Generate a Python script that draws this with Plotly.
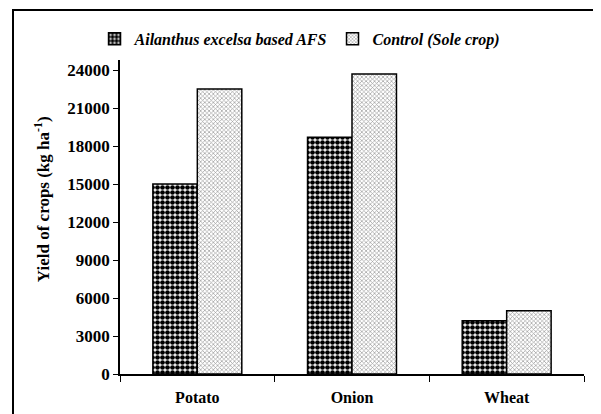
import plotly.graph_objects as go

categories = ["Potato", "Onion", "Wheat"]
afs_values = [15000, 18700, 4200]
control_values = [22500, 23700, 5000]
series_names = ["<i>Ailanthus excelsa based AFS</i>", "<i>Control (Sole crop)</i>"]
y_tickvals = [0, 3000, 6000, 9000, 12000, 15000, 18000, 21000, 24000]
y_ticktext = [str(v) for v in y_tickvals]
y_title = "Yield of crops (kg ha<sup>-1</sup>)"

fig = go.Figure()
fig.add_trace(go.Bar(
    x=categories, y=afs_values, name=series_names[0],
    marker=dict(color="white", line=dict(color="black", width=1.5),
                pattern=dict(shape=".", fgcolor="black", bgcolor="white", size=5, solidity=0.7)),
))
fig.add_trace(go.Bar(
    x=categories, y=control_values, name=series_names[1],
    marker=dict(color="white", line=dict(color="black", width=1.5),
                pattern=dict(shape="x", fgcolor="#9a9a9a", bgcolor="white", size=3, solidity=0.4)),
))

font_family = "Liberation Serif"
# page body adds an 8px offset: figure is sized to the remaining area
fig.update_layout(
    template="none",
    width=593, height=406,
    margin=dict(l=112, r=17, t=52, b=40, autoexpand=False),
    paper_bgcolor="white", plot_bgcolor="white",
    barmode="group", bargap=0.425, bargroupgap=0,
    font=dict(family=font_family, color="black", size=16),
    legend=dict(orientation="h", x=0.388, xanchor="center", y=1.067, yanchor="middle",
                font=dict(size=16, family=font_family, weight="bold"),
                bgcolor="rgba(0,0,0,0)", itemwidth=30, traceorder="normal"),
    showlegend=True,
)
fig.update_xaxes(
    automargin=False,
    showline=True, linecolor="black", linewidth=1.5, showgrid=False,
    ticks="outside", tickson="boundaries", ticklen=6, tickcolor="black",
    tickfont=dict(size=16, family=font_family, weight="bold"),
    ticklabelstandoff=8,
)
fig.update_yaxes(
    automargin=False,
    range=[0, 24800], tickvals=y_tickvals, ticktext=y_ticktext,
    showline=True, linecolor="black", linewidth=1.5,
    ticks="outside", ticklen=5, tickcolor="black", showgrid=False, zeroline=False,
    tickfont=dict(size=17, family=font_family, weight="bold"),
)
fig.add_annotation(
    text=y_title, textangle=-90, xref="paper", yref="paper",
    x=-0.168, y=0.557, xanchor="center", yanchor="middle", showarrow=False,
    font=dict(size=17, family=font_family, weight="bold", color="black"),
)
fig.add_shape(type="rect", xref="paper", yref="paper",
              x0=-0.2306, x1=1.2, y0=-0.3, y1=1.159,
              line=dict(color="black", width=2), fillcolor="rgba(0,0,0,0)", layer="above")

fig.write_html("out.html")
